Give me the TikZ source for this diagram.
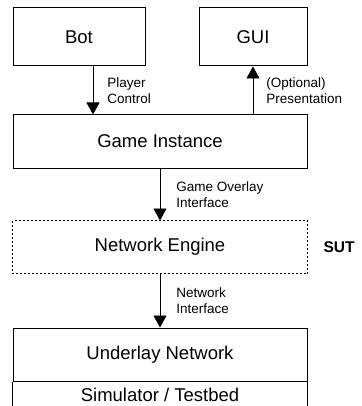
\documentclass[tikz,border=0pt]{standalone}
\usepackage{fontspec}
\setmainfont{Liberation Sans}
\usetikzlibrary{positioning,calc,arrows.meta}

\begin{document}
\begin{tikzpicture}[x=1pt,y=-1pt,
	box/.style={draw, line width=1pt, inner sep=0pt, font=\fontsize{18.5}{22}\selectfont},
	arr/.style={line width=0.8pt, -{Triangle[width=13pt,length=12pt]}},
	lbl/.style={align=left, inner sep=0pt, font=\fontsize{13.5}{16}\selectfont}]
	\useasboundingbox (0,0) rectangle (361,406);
	\begin{scope}
	\clip (0,0) rectangle (361,406);
	
	\node[box, minimum width=132pt, minimum height=58pt] (bot) at (79, 37) {Bot};
	\node[box, minimum width=108pt, minimum height=58pt] (gui) at (253, 37) {GUI};
	\node[box, minimum width=294pt, minimum height=53pt] (gi) at (160, 141.5) {Game Instance};
	\node[box, draw=none, minimum width=294pt, minimum height=52pt] (ne) at (160, 247) {Network Engine};
	\draw[line width=1pt, dash pattern=on 2pt off 2pt] (ne.north west) rectangle (ne.south east);
	\node[font=\fontsize{15.5}{18}\selectfont\bfseries, inner sep=0pt] (sut) at (339, 247) {SUT};
	\node[box, minimum width=294pt, minimum height=53pt] (un) at (160, 354.5) {Underlay Network};
	\node[box, draw=none, minimum width=294pt, minimum height=26pt, anchor=north] (sim) at (un.south) {Simulator / Testbed};
	\draw[line width=1pt] (sim.north west) -- ++(0,30) (sim.north east) -- ++(0,30);
	
	\coordinate (pc) at ([xshift=14pt]bot.south);
	\draw[arr] (pc) -- (pc |- gi.north) node[lbl, midway, right=14pt] {Player\\Control};
	\draw[arr] (gi.north -| gui.south) -- (gui.south) node[lbl, midway, right=13pt] {(Optional)\\Presentation};
	\draw[arr] (gi.south) -- (ne.north) node[lbl, midway, right=16pt] {Game Overlay\\Interface};
	\draw[arr] (ne.south) -- (un.north) node[lbl, midway, right=16pt] {Network\\Interface};
	
	\end{scope}
\end{tikzpicture}
\end{document}
